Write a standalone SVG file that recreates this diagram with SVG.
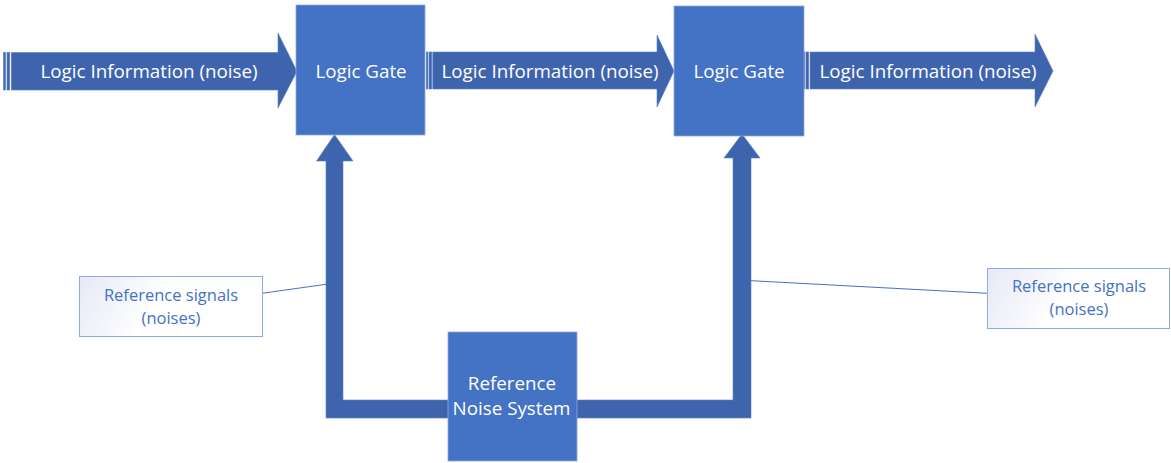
<svg xmlns="http://www.w3.org/2000/svg" width="1171" height="463" viewBox="0 0 1171 463">
<defs>
<linearGradient id="cg" x1="0" y1="0" x2="1" y2="0.2">
<stop offset="0" stop-color="#E6E9F6"/>
<stop offset="0.5" stop-color="#FFFFFF"/>
<stop offset="1" stop-color="#FFFFFF"/>
</linearGradient>
<style>
.box{fill:#4472C4;stroke:#8FAADC;stroke-width:0.8}
.arr{fill:#3F64AE;stroke:#5B7FC2;stroke-width:0.6}
.lbl{font-family:"Open Sans","Liberation Sans",sans-serif;font-size:18.8px;fill:#FFFFFF;text-anchor:middle}
.call{fill:url(#cg);stroke:#8FAADC;stroke-width:1}
.ctxt{font-family:"Open Sans","Liberation Sans",sans-serif;font-size:16.5px;fill:#4472C4;text-anchor:middle}
.lead{stroke:#4472C4;stroke-width:1;fill:none}
</style>
</defs>
<rect width="1171" height="463" fill="#FFFFFF"/>
<g id="connectors">
<g id="arrow1">
<rect class="arr" x="3.5" y="52.5" width="2" height="37.5"/>
<rect class="arr" x="7" y="52.5" width="2.7" height="37.5"/>
<path class="arr" d="M11.3,52.5 L278,52.5 L278,33 L297,71.3 L278,108 L278,90 L11.3,90 Z"/>
<text class="lbl" x="149" y="77.5">Logic Information (noise)</text>
</g>
<g id="arrow2">
<rect class="arr" x="426.3" y="52" width="1.6" height="37"/>
<rect class="arr" x="429" y="52" width="2.7" height="37"/>
<path class="arr" d="M432.7,52 L657,52 L657,35 L674,71 L657,107 L657,89 L432.7,89 Z"/>
<text class="lbl" x="550" y="77.5">Logic Information (noise)</text>
</g>
<g id="arrow3">
<rect class="arr" x="803.3" y="52" width="1.6" height="37"/>
<rect class="arr" x="806" y="52" width="2.7" height="37"/>
<path class="arr" d="M810,52 L1035,52 L1035,34 L1053,71 L1035,107 L1035,89 L810,89 Z"/>
<text class="lbl" x="928" y="77.5">Logic Information (noise)</text>
</g>
<path id="feedback" class="arr" d="M334.5,134.5 L353,161 L343,161 L343,400 L733,400 L733,158 L724,158 L742,134 L760,158 L751,158 L751,418 L326,418 L326,161 L316.5,161 Z"/>
<line class="lead" x1="262" y1="293.3" x2="326" y2="284.3"/>
<line class="lead" x1="751" y1="280.7" x2="987.3" y2="293.3"/>
</g>
<g id="gate1">
<rect class="box" x="296" y="5" width="129" height="130"/>
<text class="lbl" x="361" y="78">Logic Gate</text>
</g>
<g id="gate2">
<rect class="box" x="674" y="6" width="130" height="130"/>
<text class="lbl" x="739" y="78">Logic Gate</text>
</g>
<g id="noise-system">
<rect class="box" x="448" y="332" width="129" height="129"/>
<text class="lbl" x="512" y="390">Reference</text>
<text class="lbl" x="511.5" y="415">Noise System</text>
</g>
<g id="callout-left">
<rect class="call" x="79.5" y="276.5" width="183" height="60"/>
<text class="ctxt" x="171" y="301">Reference signals</text>
<text class="ctxt" x="171" y="324">(noises)</text>
</g>
<g id="callout-right">
<rect class="call" x="987.5" y="268.5" width="182" height="60"/>
<text class="ctxt" x="1079" y="292">Reference signals</text>
<text class="ctxt" x="1079" y="315">(noises)</text>
</g>
</svg>
